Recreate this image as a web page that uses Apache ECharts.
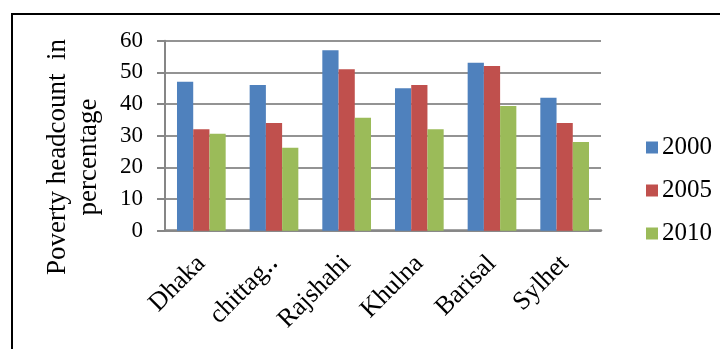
<!DOCTYPE html>
<html>
<head>
<meta charset="utf-8">
<script src="https://cdn.jsdelivr.net/npm/echarts@6/dist/echarts.min.js"></script>
<style>
  html, body { margin: 0; padding: 0; background: #fff; }
  #chart { width: 720px; height: 349px; }
</style>
</head>
<body>
<div id="chart"></div>
<script>
// Poverty headcount by division, three survey years
const divisions = ['Dhaka', 'chittag\u2025', 'Rajshahi', 'Khulna', 'Barisal', 'Sylhet'];
const years = ['2000', '2005', '2010'];
const values2000 = [47, 46, 57, 45, 53, 42];
const values2005 = [32, 34, 51, 46, 52, 34];
const values2010 = [30.6, 26.2, 35.7, 32, 39.4, 28];
const yTicks = [0, 10, 20, 30, 40, 50, 60];

const seriesValues = [values2000, values2005, values2010];
const colors = ['#4F81BD', '#C0504D', '#9BBB59'];
const serif = '"Liberation Serif", "Times New Roman", serif';

const chart = echarts.init(document.getElementById('chart'), null, { renderer: 'canvas' });

chart.setOption({
  animation: false,
  backgroundColor: '#fff',
  color: colors,
  grid: { left: 165, right: 119, top: 40.7, bottom: 118.3, containLabel: false },
  legend: {
    orient: 'vertical',
    left: 641,
    top: 130,
    itemWidth: 12,
    itemHeight: 12,
    itemGap: 18,
    icon: 'rect',
    data: years,
    textStyle: { fontFamily: serif, fontSize: 25, color: '#000', lineHeight: 25, padding: [0, 0, 0, -1] }
  },
  xAxis: {
    type: 'category',
    data: divisions,
    axisLine: { show: true, lineStyle: { color: '#868686', width: 2.5 } },
    axisTick: { show: false },
    axisLabel: {
      rotate: 45,
      interval: 0,
      margin: 29,
      fontFamily: serif,
      fontSize: 26,
      color: '#000'
    }
  },
  yAxis: {
    type: 'value',
    min: yTicks[0],
    max: yTicks[yTicks.length - 1],
    interval: 10,
    axisLine: { show: true, lineStyle: { color: '#868686', width: 2 } },
    axisTick: { show: true, inside: false, length: 8, lineStyle: { color: '#868686', width: 2 } },
    axisLabel: { margin: 22, fontFamily: serif, fontSize: 23, color: '#000' },
    splitLine: { show: true, lineStyle: { color: '#939393', width: 2 } }
  },
  series: years.map((y, i) => ({
    name: y,
    type: 'bar',
    data: seriesValues[i],
    barGap: '0%',
    barCategoryGap: '33%',
    itemStyle: { color: colors[i] }
  })),
  graphic: [
    {
      type: 'rect',
      silent: true,
      shape: { x: 12, y: 14, width: 760, height: 400 },
      style: { fill: 'none', stroke: '#000', lineWidth: 2 }
    },
    {
      type: 'text',
      silent: true,
      x: 73,
      y: 157,
      rotation: Math.PI / 2,
      style: {
        text: 'Poverty headcount  in\npercentage',
        fontFamily: serif,
        fontSize: 27,
        lineHeight: 31,
        fill: '#000',
        align: 'center',
        verticalAlign: 'middle'
      }
    }
  ]
});
</script>
</body>
</html>
